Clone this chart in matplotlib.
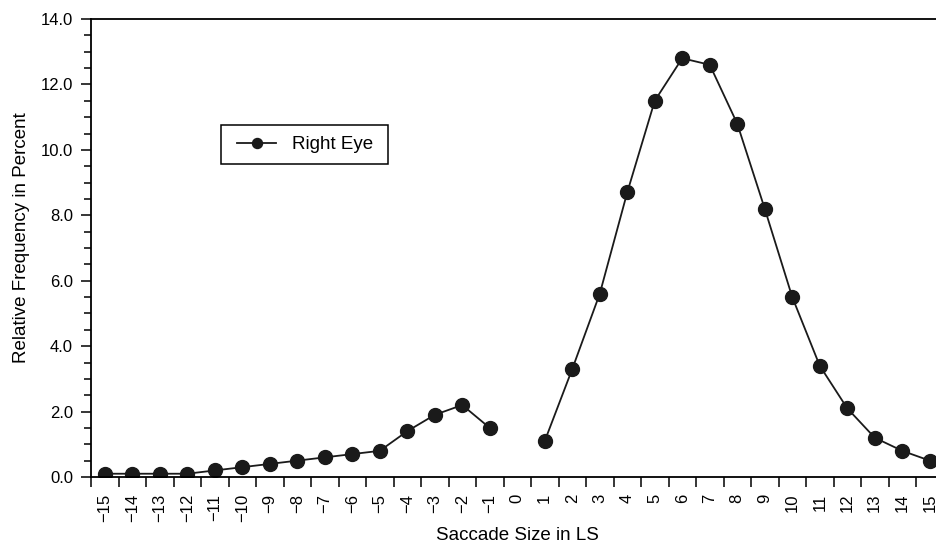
import matplotlib.pyplot as plt
import numpy as np
from matplotlib.patches import Rectangle
from matplotlib.ticker import FixedLocator, MultipleLocator, FormatStrFormatter

plt.rcParams['font.family'] = ['Liberation Sans', 'DejaVu Sans']

# saccade sizes (LS) and relative frequency (%), no value at 0
sizes = np.arange(-15, 16)
right_eye = [0.1, 0.1, 0.1, 0.1, 0.2, 0.3, 0.4, 0.5, 0.6, 0.7, 0.8, 1.4, 1.9, 2.2, 1.5,
             np.nan,
             1.1, 3.3, 5.6, 8.7, 11.5, 12.8, 12.6, 10.8, 8.2, 5.5, 3.4, 2.1, 1.2, 0.8, 0.5]
tick_labels = [str(s).replace('-', '\u2212') for s in sizes]

W, H = 936, 545
fig = plt.figure(figsize=(W / 100, H / 100), dpi=100)
ax = fig.add_axes([91 / W, (H - 477) / H, 852.5 / W, 458 / H])

col = '#1a1a1a'
ax.plot(sizes, right_eye, '-o', color=col, linewidth=1.3, markersize=10,
        label='Right Eye')

ax.set_xlim(-15.5, 15.5)
ax.set_ylim(0, 14)

# category boundaries get the ticks, centres get the labels
ax.xaxis.set_major_locator(FixedLocator(np.arange(-15.5, 16, 1.0)))
ax.xaxis.set_minor_locator(FixedLocator(sizes))
ax.set_xticklabels([], minor=False)
ax.set_xticklabels(tick_labels, minor=True, rotation=90)
ax.tick_params(axis='x', which='major', direction='out', length=7, width=1.1)
ax.tick_params(axis='x', which='minor', length=0, pad=12, labelsize=12)

ax.yaxis.set_major_locator(MultipleLocator(2))
ax.yaxis.set_minor_locator(MultipleLocator(0.5))
ax.yaxis.set_major_formatter(FormatStrFormatter('%.1f'))
ax.tick_params(axis='y', which='major', direction='out', length=7, width=1.1,
               pad=6, labelsize=12)
ax.tick_params(axis='y', which='minor', direction='out', length=5, width=1.1)
ax.tick_params(top=False, right=False)

for sp in ax.spines.values():
    sp.set_linewidth(1.3)

fig.text(22 / W, 1 - 237.5 / H, 'Relative Frequency in Percent', rotation=90,
         ha='center', va='center', fontsize=13.5)
fig.text(517 / W, 1 - 540.5 / H, 'Saccade Size in LS', ha='center',
         va='baseline', fontsize=13.5)

# legend box
fig.patches.append(Rectangle((221 / W, 1 - 164 / H), 167 / W, 39 / H,
                             transform=fig.transFigure, fill=False,
                             edgecolor='black', linewidth=1.1))
ax.legend(loc='center left', bbox_to_anchor=(237 / W, 1 - 144.5 / H),
          bbox_transform=fig.transFigure, frameon=False, fontsize=13.5,
          markerscale=0.72, handlelength=2.08, handletextpad=0.84,
          borderpad=0, borderaxespad=0)

fig.savefig('out.png', dpi=100)
